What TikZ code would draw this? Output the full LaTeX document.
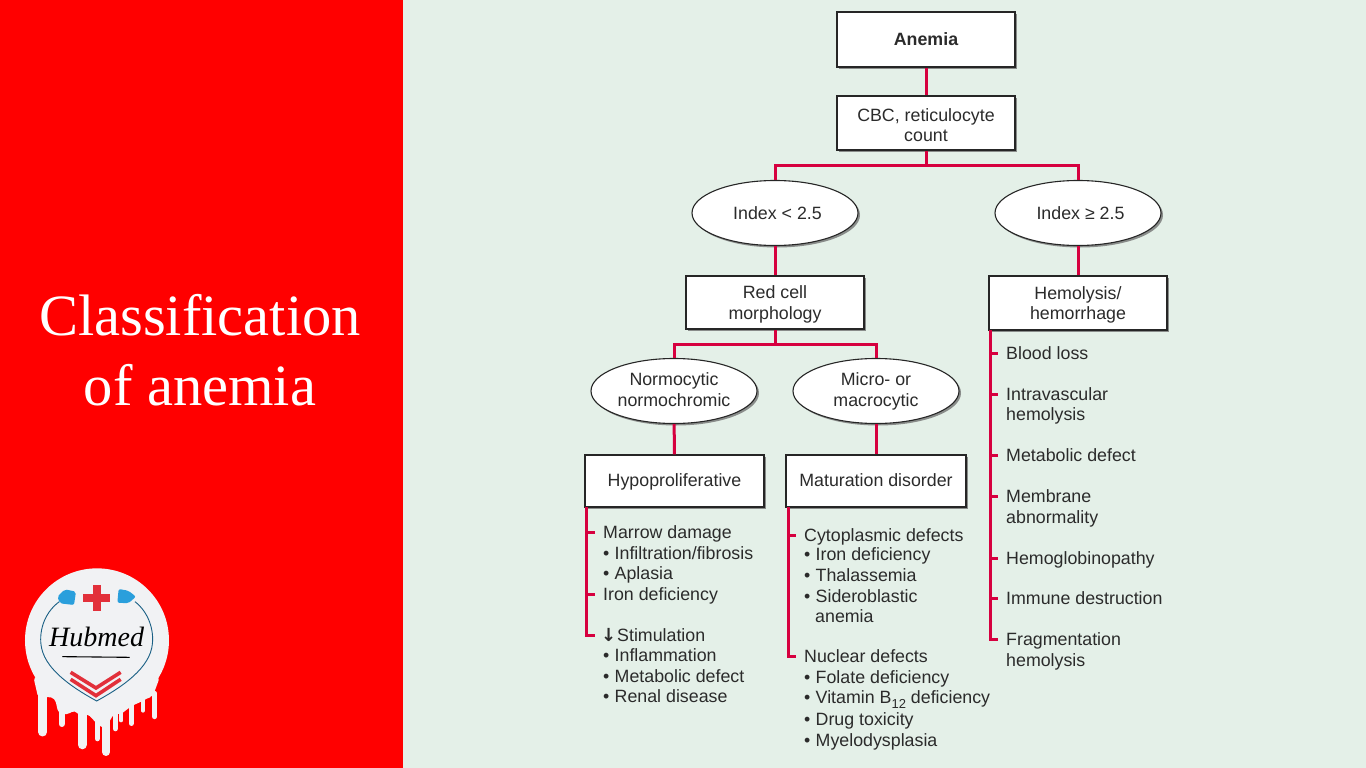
\documentclass[tikz,border=0pt]{standalone}
\usepackage{fontspec}
\setmainfont{Liberation Sans}
\newfontfamily\titlefont{Liberation Serif}
\newfontfamily\arrowfont{DejaVu Sans}
\usetikzlibrary{shapes.geometric,shadows,calc}
\definecolor{pagebg}{HTML}{E4F0E8}
\definecolor{linkred}{HTML}{D6003F}
\definecolor{inktext}{HTML}{2B2B2B}
\definecolor{logoblue}{HTML}{2A9FDC}
\definecolor{logored}{HTML}{E2303A}
\definecolor{logowhite}{HTML}{F1F2F4}
\tikzset{
  x=1pt,y=-1pt,
  boxshadow/.style={drop shadow={shadow xshift=2pt,shadow yshift=-2pt,fill=black!55,opacity=.8}},
  flowbox/.style={draw=black!85,fill=white,line width=1.1pt,rectangle,minimum width=178pt,inner sep=0pt,align=center,text=inktext,font=\fontsize{17.8}{20.6}\selectfont,boxshadow},
  flowell/.style={draw=black!85,fill=white,line width=1.1pt,ellipse,minimum width=166pt,minimum height=65pt,inner sep=0pt,align=center,text=inktext,font=\fontsize{17.8}{20.6}\selectfont,boxshadow},
  link/.style={draw=linkred,line width=3pt},
  item/.style={anchor=west,inner sep=0pt,text=inktext,text height=13pt,text depth=0pt,font=\fontsize{17.8}{20.6}\selectfont},
  titletext/.style={text=white,align=center,font=\titlefont\fontsize{58.5}{70}\selectfont},
}
\newcommand{\bul}{\makebox[11.5pt][l]{\textbullet}}
\newcommand{\twol}[3]{\rule{0pt}{#1pt}#2\\#3\rule[-5pt]{0pt}{5pt}}
\begin{document}
\begin{tikzpicture}
\useasboundingbox (0,0) rectangle (1366,768);
\fill[pagebg] (0,0) rectangle (1366,768);
\fill[red] (0,0) rectangle (403,768);
\node[titletext] (title) at (200,350) {Classification\\of anemia};

% ---- logo
\begin{scope}[shift={(0,550)},x=.3333pt,y=-.3333pt]
  \fill[logowhite] (291,271) circle[radius=216];
  \fill[logowhite,rounded corners=4pt] (100,380) -- (115,445) -- (145,440) -- (165,445) -- (175,490) -- (200,495) -- (225,480) -- (240,500) -- (262,490) -- (285,515) -- (305,535) -- (330,515) -- (340,490) -- (360,495) -- (385,475) -- (400,465) -- (425,455) -- (440,445) -- (458,440) -- (480,380) -- cycle;
  \foreach \px/\py/\pw in {128/546/27,185/522/18,247/584/28,292/566/16,318/606/24,346/536/16,363/512/10,394/520/16,429/482/12,464/500/15}
    \draw[logowhite,line width=\pw*.3333pt,line cap=round] (\px,430) -- (\px,\py);
  \draw[logoblue!60!black,line width=.9pt] (178,155) .. controls (130,190) and (115,250) .. (125,295) .. controls (140,365) and (230,420) .. (290,453) .. controls (350,420) and (440,365) .. (455,295) .. controls (465,250) and (450,190) .. (405,155);
  \fill[logoblue,rounded corners=2pt] (172,140) -- (195,118) -- (228,125) -- (222,165) -- (180,160) -- cycle;
  \fill[logoblue,rounded corners=2pt] (408,140) -- (385,160) -- (352,158) -- (356,117) -- (385,122) -- cycle;
  \fill[logored] (250,132) rectangle (330,155);
  \fill[logored] (278,105) rectangle (303,182);
  \draw[logored,line width=3.6pt] (212,367) -- (288,414) -- (362,367);
  \draw[logored,line width=3.6pt] (212,388) -- (288,437) -- (362,388);
  \node[text=black,font=\titlefont\itshape\fontsize{28}{28}\selectfont,inner sep=0pt] (logotext) at (290,262) {Hubmed};
  \draw[black,line width=1.1pt,line cap=round] (188,320) -- (388,322);
\end{scope}

% ---- flow nodes
\node[flowbox,minimum height=55pt,font=\bfseries\fontsize{17.8}{20.6}\selectfont] (anemia) at (926,39.5) {Anemia};
\node[flowbox,minimum height=54pt] (cbc) at (926,123) {\twol{22}{CBC, reticulocyte}{count}};
\node[flowell] (idxl) at (775,213) {\hspace{5pt}Index < 2.5};
\node[flowell] (idxr) at (1078,213) {\hspace{5pt}Index ≥ 2.5};
\node[flowbox,minimum height=53pt] (morph) at (775,302.5) {\twol{18}{Red cell}{morphology}};
\node[flowbox,minimum height=54pt] (hemo) at (1078,303) {\twol{18}{Hemolysis/}{hemorrhage}};
\node[flowell] (normo) at (674,391) {\twol{15.5}{Normocytic}{normochromic}};
\node[flowell] (micro) at (876,391) {\twol{15.5}{Micro- or}{macrocytic}};
\node[flowbox,minimum height=52pt,minimum width=179pt,text height=13pt,text depth=2pt] (hypo) at (674.5,481) {Hypoproliferative};
\node[flowbox,minimum height=52pt,minimum width=180pt,text height=13pt,text depth=2pt] (matur) at (876,481) {Maturation disorder};

% ---- connectors between nodes
\coordinate (bustop) at (926,165);
\coordinate (busmid) at (775,344);
\draw[link] (anemia) -- (cbc);
\draw[link] (cbc) -- (bustop);
\draw[link] (idxl.north) |- (bustop) -| (idxr.north);
\draw[link] (idxl) -- (morph);
\draw[link] (idxr) -- (hemo);
\draw[link] (morph) -- (busmid);
\draw[link] (normo.north) |- (busmid) -| (micro.north);
\draw[link] (normo) -- (hypo);
\draw[link] (micro) -- (matur);

% ---- Hypoproliferative list
\node[item] (h1) at (603,532) {Marrow damage};
\node[item] (h2) at (603,553) {\bul Infiltration/fibrosis};
\node[item] (h3) at (603,573) {\bul Aplasia};
\node[item] (h4) at (603,594) {Iron deficiency};
\node[item] (h5) at (601,635) {\makebox[16pt][l]{\arrowfont\bfseries\fontsize{18}{18}\selectfont ↓}Stimulation};
\node[item] (h6) at (603,655) {\bul Inflammation};
\node[item] (h7) at (603,676) {\bul Metabolic defect};
\node[item] (h8) at (603,696) {\bul Renal disease};
\coordinate (ht) at (586,507);
\draw[link] (ht) |- ([xshift=-6pt]h5.west);
\foreach \n in {h1,h4}
  \draw[link] (ht |- \n.west) -- ([xshift=-8pt]\n.west);

% ---- Maturation list
\node[item] (m1) at (804,535) {Cytoplasmic defects};
\node[item] (m2) at (804,554) {\bul Iron deficiency};
\node[item] (m3) at (804,575) {\bul Thalassemia};
\node[item] (m4) at (804,596) {\bul Sideroblastic};
\node[item] (m5) at (815,616) {anemia};
\node[item] (m6) at (804,656) {Nuclear defects};
\node[item] (m7) at (804,677) {\bul Folate deficiency};
\node[item] (m8) at (804,697) {\bul Vitamin B\raisebox{-5pt}{\fontsize{13}{13}\selectfont 12} deficiency};
\node[item] (m9) at (804,719) {\bul Drug toxicity};
\node[item] (m10) at (804,740) {\bul Myelodysplasia};
\coordinate (mt) at (788,507);
\draw[link] (mt) |- ([xshift=-8pt]m6.west);
\draw[link] (mt |- m1.west) -- ([xshift=-8pt]m1.west);

% ---- Hemolysis list
\node[item] (r1) at (1006,353) {Blood loss};
\node[item] (r2) at (1006,394) {Intravascular};
\node[item] (r3) at (1006,414) {hemolysis};
\node[item] (r4) at (1006,455) {Metabolic defect};
\node[item] (r5) at (1006,496) {Membrane};
\node[item] (r6) at (1006,517) {abnormality};
\node[item] (r7) at (1006,558) {Hemoglobinopathy};
\node[item] (r8) at (1006,598) {Immune destruction};
\node[item] (r9) at (1006,639) {Fragmentation};
\node[item] (r10) at (1006,660) {hemolysis};
\coordinate (rt) at (990,330);
\draw[link] (rt) |- ([xshift=-8pt]r9.west);
\foreach \n in {r1,r2,r4,r5,r7,r8}
  \draw[link] (rt |- \n.west) -- ([xshift=-8pt]\n.west);
\end{tikzpicture}
\end{document}
